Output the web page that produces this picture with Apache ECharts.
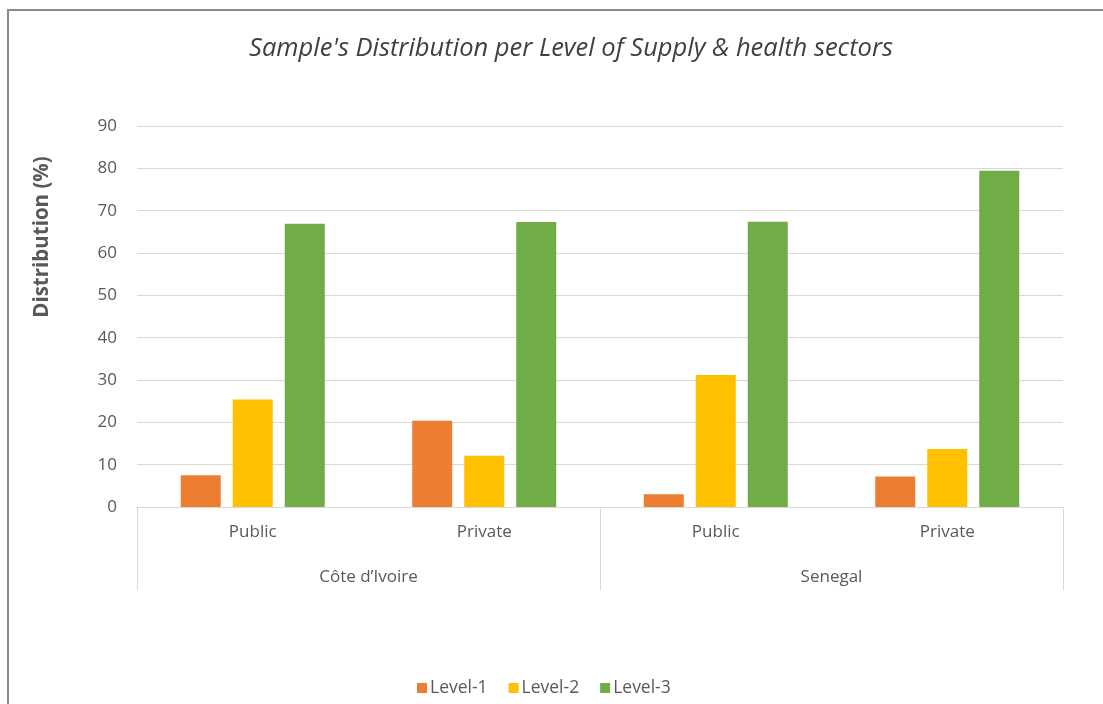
<!DOCTYPE html>
<html>
<head>
<meta charset="utf-8">
<script src="https://cdn.jsdelivr.net/npm/echarts@6/dist/echarts.min.js"></script>
<style>html,body{margin:0;padding:0;background:#fff;}#c{width:1103px;height:704px;}</style>
</head>
<body>
<div id="c"></div>
<script>
const sectors = ['Public', 'Private', 'Public', 'Private'];
const countries = ['Côte d’Ivoire', 'Senegal'];
const level1 = [7.5, 20.4, 3.0, 7.2];
const level2 = [25.4, 12.1, 31.2, 13.7];
const level3 = [66.9, 67.3, 67.4, 79.4];
const seriesNames = ['Level-1', 'Level-2', 'Level-3'];
const yTicks = { min: 0, max: 90, interval: 10 };

const FONT = '"Open Sans", sans-serif';
const chart = echarts.init(document.getElementById('c'));
chart.setOption({
  backgroundColor: '#fff',
  animation: false,
  title: {
    text: "Sample's Distribution per Level of Supply & health sectors",
    left: 566, top: 31, textAlign: 'center',
    textStyle: { fontFamily: FONT, fontStyle: 'italic', fontWeight: 'normal', fontSize: 25.5, color: '#404040' }
  },
  graphic: [
    { type: 'rect', shape: { x: 8, y: 10, width: 1300, height: 900 }, style: { fill: 'none', stroke: '#8a8a8a', lineWidth: 2 }, silent: true },
    { type: 'text', x: 42, y: 237, rotation: Math.PI / 2,
      style: { text: 'Distribution (%)', fontFamily: FONT, fontWeight: 'bold', fontSize: 20.5, fill: '#595959', textAlign: 'center', textVerticalAlign: 'middle' } }
  ],
  legend: {
    data: seriesNames, left: 412, top: 674, itemWidth: 10, itemHeight: 10, itemGap: 21,
    icon: 'rect',
    textStyle: { fontFamily: FONT, fontSize: 17.5, color: '#595959', padding: [0, 0, 0, -2] }
  },
  grid: { left: 137, right: 40, top: 126, bottom: 197 },
  xAxis: [
    { type: 'category', data: sectors, position: 'bottom',
      axisLine: { lineStyle: { color: '#d9d9d9' } }, axisTick: { show: false },
      axisLabel: { margin: 17, fontFamily: FONT, fontSize: 17, color: '#595959' } },
    { type: 'category', data: countries, position: 'bottom',
      axisLine: { show: false },
      axisTick: { show: true, length: 83, interval: 0, lineStyle: { color: '#d9d9d9' } },
      axisLabel: { margin: 62, fontFamily: FONT, fontSize: 17, color: '#595959' } }
  ],
  yAxis: {
    type: 'value', min: yTicks.min, max: yTicks.max, interval: yTicks.interval,
    axisLine: { show: false }, axisTick: { show: false },
    splitLine: { lineStyle: { color: '#d9d9d9' } },
    axisLabel: { margin: 20, fontFamily: FONT, fontSize: 17, color: '#595959' }
  },
  series: [
    { name: seriesNames[0], type: 'bar', data: level1, barWidth: 40, barGap: '30%', itemStyle: { color: '#ED7D31' } },
    { name: seriesNames[1], type: 'bar', data: level2, barWidth: 40, barGap: '30%', itemStyle: { color: '#FFC000' } },
    { name: seriesNames[2], type: 'bar', data: level3, barWidth: 40, barGap: '30%', itemStyle: { color: '#70AD47' } }
  ]
});
</script>
</body>
</html>
